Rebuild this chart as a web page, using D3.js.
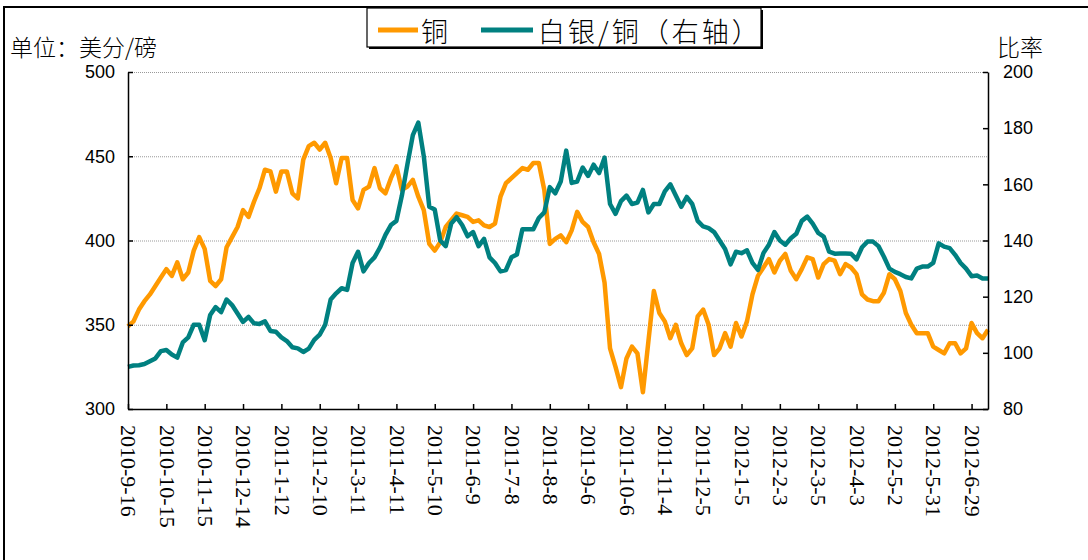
<!DOCTYPE html>
<html><head><meta charset="utf-8">
<script src="https://cdn.jsdelivr.net/npm/d3@7"></script>
<style>body{margin:0;background:#fff} svg{display:block}</style>
</head><body><svg id="c" width="1088" height="560"></svg>
<script>
// X-axis tick labels (one every 21 trading days = every 7 samples)
const dateLabels = ["2010-9-16","2010-10-15","2010-11-15","2010-12-14","2011-1-12","2011-2-10","2011-3-11","2011-4-11","2011-5-10","2011-6-9","2011-7-8","2011-8-8","2011-9-6","2011-10-6","2011-11-4","2011-12-5","2012-1-5","2012-2-3","2012-3-5","2012-4-3","2012-5-2","2012-5-31","2012-6-29"];
const samplesPerLabel = 7;
// Copper, US cents / lb (left axis), sampled every 3 trading days
const copper = [
349,352,359,364,368,373,378,383,379,387,
377,381,394,402,395,376,373,377,396,402,
408,418,414,423,431,442,441,429,441,441,
428,425,448,456,458,454,458,449,434,449,
449,424,419,430,432,443,431,428,437,444,
430,432,436,426,418,398,394,399,408,412,
416,415,414,411,412,409,408,410,426,434,
437,440,443,442,446,446,430,398,401,403,
399,406,417,411,408,399,392,375,336,325,
313,330,337,333,310,340,370,357,352,342,
350,339,332,336,355,359,350,332,336,345,
337,351,343,352,368,379,384,389,381,388,
392,382,377,383,390,389,378,386,389,388,
380,386,384,380,368,365,364,364,369,380,
377,370,357,350,345,345,345,337,335,333,
339,339,333,336,351,345,342,347];
// Silver / copper ratio (right axis)
const ratio = [
95,95.5,95.6,96,97,98,100.6,101,99.4,98.3,
103.7,105.5,110,110,104.5,113.5,116.3,114.5,119,117,
114,111,112.8,110.5,110.3,111.2,107.8,107.5,105.5,104.2,
102,101.6,100.3,101.5,104.6,106.5,110,119,121.2,123,
122.4,132,136,129,132,134,137.5,142,145.5,147,
156,167,177.5,182,170,152,151,140,138,146,
148.3,145.5,141.5,143,138,140.6,134,132,129,129.5,
134,135,144,144,144,148,150,159,156.8,161,
172,160.5,161,166,163,167,164,169.5,153,149.5,
154,156,153,153.5,158,150,153,153,157.5,160,
156,152,155.5,153,147,145,144.4,143,140,137,
131.5,136,135.5,136.5,132,129.5,135.5,138.5,143,140,
138.5,140.8,142.4,147,148.5,146,142.7,141.4,136,135.3,
135.4,135.4,135.3,133.3,137.6,139.6,139.6,138,134.2,130,
128.8,128,127,126.5,130,130.7,130.7,132,139,137.8,
137.3,134.9,132,130,127.3,127.5,126.5,126.5];
const leftTicks = [300,350,400,450,500];
const rightTicks = [80,100,120,140,160,180,200];
const seriesNames = ["铜","白银/铜（右轴）"];
const seriesColors = ["#FF9900","#008080"];

const svg = d3.select("#c");
const L=128,R=988,T=72,B=409;
const x = d3.scaleLinear().domain([0, copper.length-1]).range([L,R]);
const yL = d3.scaleLinear().domain([300,500]).range([B,T]);
const yR = d3.scaleLinear().domain([80,200]).range([B,T]);
const numFont = "'Liberation Sans', Arial, sans-serif";
const cjkFont = "'Noto Sans CJK SC', sans-serif";

// outer border
svg.append("rect").attr("x",4).attr("y",7).attr("width",1200).attr("height",700)
  .attr("fill","none").attr("stroke","#000").attr("stroke-width",2);

// gridlines
svg.append("g").selectAll("line").data(leftTicks.filter(d=>d>300)).join("line")
  .attr("x1",L).attr("x2",R).attr("y1",d=>yL(d)+0.5).attr("y2",d=>yL(d)+0.5)
  .attr("stroke","#999").attr("stroke-width",1).attr("stroke-dasharray","1,1");

// lines
const lineC = d3.line().x((d,i)=>x(i)).y(d=>yL(d));
const lineR = d3.line().x((d,i)=>x(i)).y(d=>yR(d));
svg.append("path").datum(copper).attr("d",lineC).attr("fill","none")
  .attr("stroke",seriesColors[0]).attr("stroke-width",4.5).attr("stroke-linejoin","round");
svg.append("path").datum(ratio).attr("d",lineR).attr("fill","none")
  .attr("stroke",seriesColors[1]).attr("stroke-width",4.5).attr("stroke-linejoin","round");

// axes
const gl = svg.append("g").attr("transform",`translate(${L},0)`)
  .call(d3.axisLeft(yL).tickValues(leftTicks).tickSize(-5).tickSizeOuter(0).tickPadding(13));
const gr = svg.append("g").attr("transform",`translate(${R},0)`)
  .call(d3.axisRight(yR).tickValues(rightTicks).tickSize(-5).tickSizeOuter(0).tickPadding(15));
const tickIdx = dateLabels.map((d,i)=>i*samplesPerLabel);
const gb = svg.append("g").attr("transform",`translate(0,${B})`)
  .call(d3.axisBottom(x).tickValues(tickIdx).tickFormat((d,i)=>dateLabels[i]).tickSize(-5).tickSizeOuter(0));
[gl,gr].forEach(g=>{
  g.selectAll("text").attr("font-family",numFont).attr("font-size",18).attr("fill","#000");
});
gb.selectAll("text").attr("font-family","'Liberation Serif', 'Times New Roman', serif")
  .attr("font-size",22).attr("fill","#000")
  .attr("transform","rotate(90)").attr("x",16).attr("y",0).attr("dy","0.33em")
  .style("text-anchor","start");
svg.selectAll(".domain").attr("stroke","#000").attr("stroke-width",1.5);
svg.selectAll(".tick line").attr("stroke","#000").attr("stroke-width",1.5);

// axis titles
svg.append("text").attr("x",10).attr("y",46).attr("dominant-baseline","central")
  .attr("font-family",cjkFont).attr("font-weight",300).attr("font-size",23).text("单位：美分/磅");
svg.append("text").attr("x",997).attr("y",46).attr("dominant-baseline","central")
  .attr("font-family",cjkFont).attr("font-weight",300).attr("font-size",23).text("比率");

// legend
const lg = svg.append("g");
lg.append("rect").attr("x",369).attr("y",10).attr("width",394).attr("height",39).attr("fill","#000");
lg.append("rect").attr("x",367).attr("y",8).attr("width",394).attr("height",39)
  .attr("fill","#fff").attr("stroke","#000").attr("stroke-width",1.2);
const items = [{x1:378,x2:418,tx:421},{x1:481,x2:533,tx:538}];
items.forEach((it,i)=>{
  lg.append("line").attr("x1",it.x1).attr("x2",it.x2).attr("y1",30).attr("y2",30)
    .attr("stroke",seriesColors[i]).attr("stroke-width",5);
  lg.append("text").attr("x",it.tx).attr("y",30).attr("dominant-baseline","central")
    .attr("font-family",cjkFont).attr("font-weight",300).attr("font-size",27)
    .attr("letter-spacing",3).text(seriesNames[i]);
});
</script></body></html>
